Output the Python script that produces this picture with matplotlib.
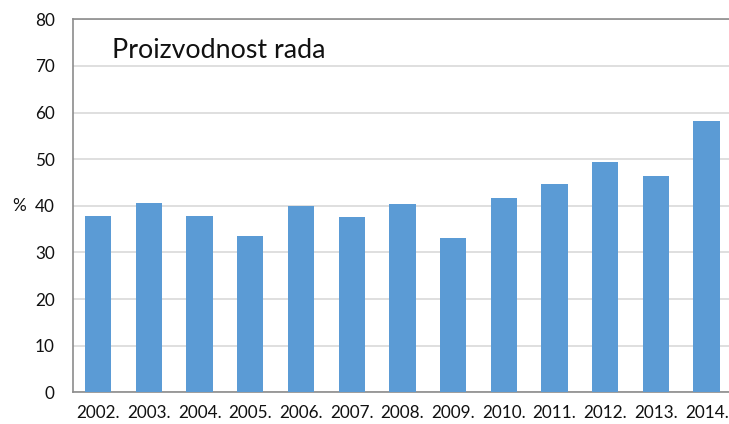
import matplotlib
matplotlib.use("Agg")
import matplotlib.pyplot as plt
import matplotlib.transforms as mtransforms

years = ["2002.", "2003.", "2004.", "2005.", "2006.", "2007.", "2008.",
         "2009.", "2010.", "2011.", "2012.", "2013.", "2014."]
values = [37.8, 40.6, 37.8, 33.5, 39.9, 37.5, 40.3, 33.2, 41.6, 44.6, 49.3, 46.3, 58.1]
yticks = [0, 10, 20, 30, 40, 50, 60, 70, 80]
title = "Proizvodnost rada"

plt.rcParams['font.family'] = ['Lato', 'DejaVu Sans']

W, H = 729, 424
fig = plt.figure(figsize=(W / 100, H / 100), dpi=100)
left, right = 72.8, 732.0
bottom, top = 392.3, 19.3
ax = fig.add_axes([left / W, (H - bottom) / H, (right - left) / W, (bottom - top) / H])

x = list(range(len(years)))
ax.bar(x, values, width=0.52, color="#5B9BD5", zorder=3)
ax.set_xlim(-0.5, len(years) - 0.5)
ax.set_ylim(0, 80)
ax.set_yticks(yticks)
ax.set_yticklabels([str(t) for t in yticks])
ax.set_xticks(x)
ax.set_xticklabels(years)
ax.grid(axis='y', color="#D9D9D9", linewidth=1.2, zorder=0)
ax.tick_params(axis='both', length=0, labelsize=12.3, colors="#111111")
ax.tick_params(axis='y', pad=13)
ax.tick_params(axis='x', pad=9)
for s in ['left', 'top', 'bottom']:
    ax.spines[s].set_color("#8C8C8C")
    ax.spines[s].set_linewidth(1.2)
ax.spines['right'].set_visible(False)

ax.text((112 - left) / (right - left), 1 - (50 - top) / (bottom - top),
        title, transform=ax.transAxes, fontsize=19.3, va='center', ha='left', color="#111111")

trans = mtransforms.blended_transform_factory(fig.transFigure, ax.transData)
fig.text(19.5 / W, 40, "%", transform=trans, fontsize=12.3, ha='center', va='center', color="#111111")

fig.savefig("out.png", dpi=100)
